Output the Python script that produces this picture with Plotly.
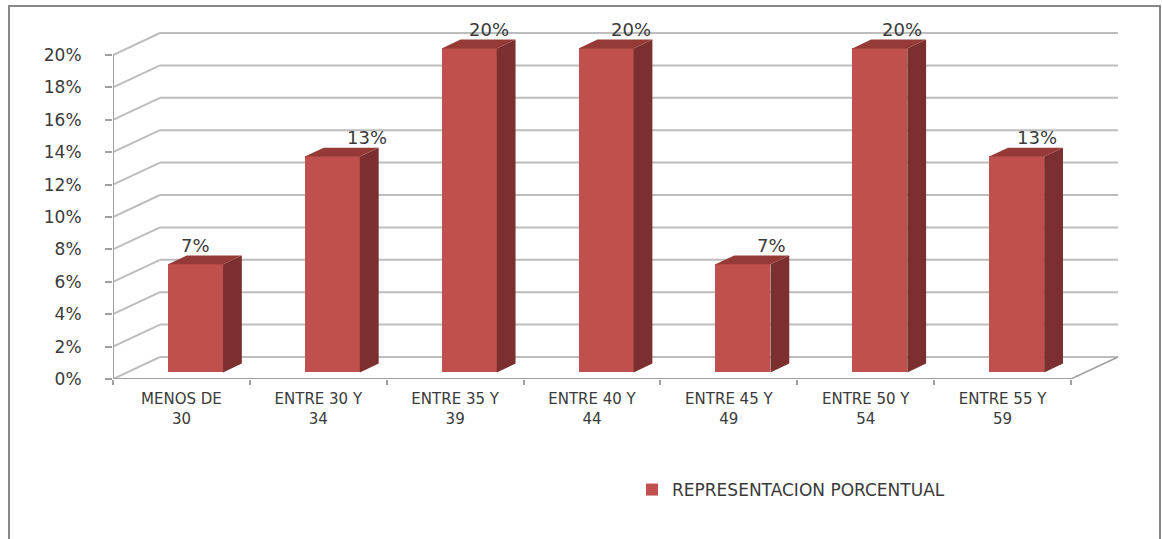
import plotly.graph_objects as go

# ---- data ----
categories = ["MENOS DE<br>30", "ENTRE 30 Y<br>34", "ENTRE 35 Y<br>39", "ENTRE 40 Y<br>44",
              "ENTRE 45 Y<br>49", "ENTRE 50 Y<br>54", "ENTRE 55 Y<br>59"]
values = [6.67, 13.33, 20.0, 20.0, 6.67, 20.0, 13.33]
series_name = "REPRESENTACION PORCENTUAL"
y_ticks = [0, 2, 4, 6, 8, 10, 12, 14, 16, 18, 20]
y_tick_text = ["0%", "2%", "4%", "6%", "8%", "10%", "12%", "14%", "16%", "18%", "20%"]
label_xshift = [0, 35, 20, 25, 29, 22, 20]

# ---- geometry (pixels) ----
W, H = 1162, 539
L, R, T, B = 113, 1120, 30, 379
FRONT_RIGHT = 1071
Y20 = 55
n = len(categories)
px_x = (FRONT_RIGHT - L) / n
px_y = (B - Y20) / 20.0
DX = 47 / px_x          # depth offset in data units
DY = 22 / px_y
F0, G = 0.3, 0.4        # bar front depth fraction, bar depth fraction
BW = 55 / px_x

FRONT = "#C0504D"
SIDE = "#7B302F"
TOP = "#963A37"
GRID = "#BDBDBD"
AXIS = "#A0A0A0"
TXT = "#3A3A3A"
FONT = "DejaVu Sans"

fig = go.Figure()

xc = [i + 0.5 + F0 * DX for i in range(n)]
base = F0 * DY
fig.add_trace(go.Bar(x=xc, y=values, base=base, width=BW, marker_color=FRONT,
                     marker_line_width=0, name=series_name, showlegend=True))

sx, sy, tx, ty = [], [], [], []
for c, v in zip(xc, values):
    xl, xr = c - BW / 2, c + BW / 2
    top = base + v
    sx += [xr, xr + G * DX, xr + G * DX, xr, xr, None]
    sy += [base, base + G * DY, top + G * DY, top, base, None]
    tx += [xl, xr, xr + G * DX, xl + G * DX, xl, None]
    ty += [top, top, top + G * DY, top + G * DY, top, None]
fig.add_trace(go.Scatter(x=sx, y=sy, fill="toself", fillcolor=SIDE, mode="lines",
                         line=dict(width=0, color=SIDE), showlegend=False, hoverinfo="skip"))
fig.add_trace(go.Scatter(x=tx, y=ty, fill="toself", fillcolor=TOP, mode="lines",
                         line=dict(width=0, color=TOP), showlegend=False, hoverinfo="skip"))

shapes = []
for t in y_ticks:
    shapes.append(dict(type="line", x0=0, y0=t, x1=DX, y1=t + DY, line=dict(color=GRID, width=2), layer="below"))
    shapes.append(dict(type="line", x0=DX, y0=t + DY, x1=n + DX, y1=t + DY, line=dict(color=GRID, width=2), layer="below"))
# floor edges
shapes.append(dict(type="line", x0=0, y0=0, x1=n, y1=0, line=dict(color=AXIS, width=2), layer="below"))
shapes.append(dict(type="line", x0=n, y0=0, x1=n + DX, y1=DY, line=dict(color=AXIS, width=1.5), layer="below"))
# vertical axis
shapes.append(dict(type="line", x0=0, y0=0, x1=0, y1=max(y_ticks), line=dict(color=AXIS, width=2), layer="below"))
# outer border
def px2paper_x(p):
    return (p - L) / (R - L)
def px2paper_y(p):
    return (B - p) / (B - T)
shapes.append(dict(type="rect", xref="paper", yref="paper",
                   x0=px2paper_x(9), x1=px2paper_x(1160), y0=px2paper_y(548), y1=px2paper_y(6),
                   line=dict(color="#888888", width=2), layer="below"))

annotations = []
for c, v, s in zip(xc, values, label_xshift):
    annotations.append(dict(x=c, y=base + v, text=f"{round(v)}%", showarrow=False,
                            xshift=s, yshift=19, font=dict(family=FONT, size=18, color=TXT)))

fig.update_layout(
    width=W, height=H,
    margin=dict(l=L, r=W - R, t=T, b=H - B),
    paper_bgcolor="white", plot_bgcolor="white",
    shapes=shapes, annotations=annotations,
    bargap=0,
    xaxis=dict(range=[0, (R - L) / px_x], tickmode="array", tickvals=[i + 0.5 for i in range(n)],
               ticktext=categories, ticks="", showgrid=False, zeroline=False, showline=False,
               tickfont=dict(family=FONT, size=15, color=TXT), ticklabelstandoff=9,
               minor=dict(ticks="outside", tick0=0, dtick=1, ticklen=5, tickcolor=AXIS, tickwidth=2, showgrid=False)),
    yaxis=dict(range=[0, (B - T) / px_y], tickmode="array", tickvals=y_ticks, ticktext=y_tick_text,
               ticks="outside", ticklen=7, tickcolor=AXIS, tickwidth=2, showgrid=False, zeroline=False,
               showline=False, tickfont=dict(family=FONT, size=17, color=TXT), ticklabelstandoff=20),
    legend=dict(x=px2paper_x(632), y=px2paper_y(490), xanchor="left", yanchor="middle",
                font=dict(family=FONT, size=17, color=TXT), bgcolor="rgba(0,0,0,0)"),
    showlegend=True,
)

fig.write_html("out.html")
